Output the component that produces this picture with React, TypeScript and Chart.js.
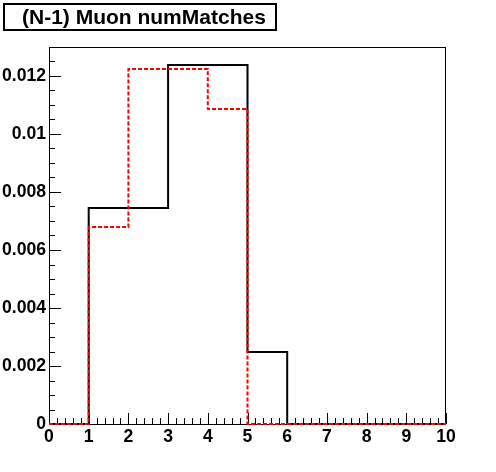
import React, { useEffect, useRef } from "react";
import { Chart, registerables } from "chart.js";

Chart.register(...registerables);

const titleText = "(N-1) Muon numMatches";
const binEdges = [0, 1, 2, 3, 4, 5, 6, 7, 8, 9, 10];
const blackValues = [0, 0.00745, 0.00745, 0.01238, 0.01238, 0.00248, 0, 0, 0, 0];
const redValues = [0, 0.00679, 0.01224, 0.01224, 0.01086, 0, 0, 0, 0, 0];
const yMax = 0.013;
const yStep = 0.002;
const xMin = 0;
const xMax = 10;

function toSteps(values: number[]) {
  return binEdges.map((e, i) => ({ x: e, y: i < values.length ? values[i] : values[values.length - 1] }));
}

const FONT = "'Liberation Sans', Arial, Helvetica, sans-serif";

const framePlugin = {
  id: "rootFrame",
  beforeDatasetsDraw(chart: any) {
    const { ctx, chartArea } = chart;
    const { left, right, top, bottom } = chartArea;
    const xs = chart.scales.x;
    const ys = chart.scales.y;
    ctx.save();
    ctx.strokeStyle = "#000";
    ctx.lineWidth = 1;
    ctx.strokeRect(left + 0.5, top + 0.5, right - left - 1, bottom - top);
    ctx.beginPath();
    for (let i = 0; i <= (xMax - xMin) * 5; i++) {
      const v = xMin + i * 0.2;
      const px = Math.round(xs.getPixelForValue(v)) + 0.5;
      const len = i % 5 === 0 ? 11 : 6;
      ctx.moveTo(px, bottom);
      ctx.lineTo(px, bottom - len);
    }
    const minor = yStep / 4;
    for (let i = 0; i * minor <= yMax + 1e-9; i++) {
      const v = i * minor;
      const py = Math.round(ys.getPixelForValue(v)) + 0.5;
      const len = i % 4 === 0 ? 12 : 6;
      ctx.moveTo(left, py);
      ctx.lineTo(left + len, py);
    }
    ctx.stroke();
    ctx.restore();
  },
};

export default function App() {
  const ref = useRef<HTMLCanvasElement>(null);
  useEffect(() => {
    if (!ref.current) return;
    const chart = new Chart(ref.current, {
      type: "line",
      data: {
        datasets: [
          {
            label: "red",
            data: toSteps(redValues),
            stepped: "before",
            borderColor: "#ff0000",
            borderWidth: 2,
            borderDash: [4, 2],
            pointRadius: 0,
            fill: false,
            clip: false,
          } as any,
          {
            label: "black",
            data: toSteps(blackValues),
            stepped: "before",
            borderColor: "#000000",
            borderWidth: 2,
            pointRadius: 0,
            fill: false,
            clip: false,
          } as any,
        ],
      },
      options: {
        animation: false,
        responsive: false,
        maintainAspectRatio: false,
        layout: { padding: { left: 0, top: 47, right: 50, bottom: 0 } },
        plugins: { legend: { display: false }, tooltip: { enabled: false }, title: { display: false } },
        scales: {
          x: {
            type: "linear",
            min: xMin,
            max: xMax,
            grid: { display: false, drawTicks: false },
            border: { display: false },
            ticks: {
              stepSize: 1,
              padding: 3,
              color: "#000",
              font: { family: FONT, size: 17.6, weight: "bold" },
              callback: (v: any) => String(v),
            },
            afterFit: (s: any) => {
              s.height = 48;
            },
          },
          y: {
            type: "linear",
            min: 0,
            max: yMax,
            grid: { display: false, drawTicks: false },
            border: { display: false },
            ticks: {
              stepSize: yStep,
              includeBounds: false,
              padding: 3,
              color: "#000",
              font: { family: FONT, size: 17.6, weight: "bold" },
              callback: (v: any) => String(+Number(v).toFixed(4)),
            },
            afterFit: (s: any) => {
              s.width = 49;
            },
          },
        },
      },
      plugins: [framePlugin],
    });
    return () => chart.destroy();
  }, []);
  return (
    <div style={{ position: "absolute", left: 0, top: 0, width: 496, height: 472, background: "#fff" }}>
      <canvas ref={ref} width={496} height={472} style={{ display: "block" }} />
      <div
        style={{
          position: "absolute",
          left: 3,
          top: 3,
          width: 274,
          height: 28,
          boxSizing: "border-box",
          border: "2px solid #000",
          fontFamily: FONT,
          fontWeight: "bold",
          fontSize: 21,
          lineHeight: "24px",
          paddingLeft: 17,
          whiteSpace: "nowrap",
          color: "#000",
        }}
      >
        {titleText}
      </div>
    </div>
  );
}
